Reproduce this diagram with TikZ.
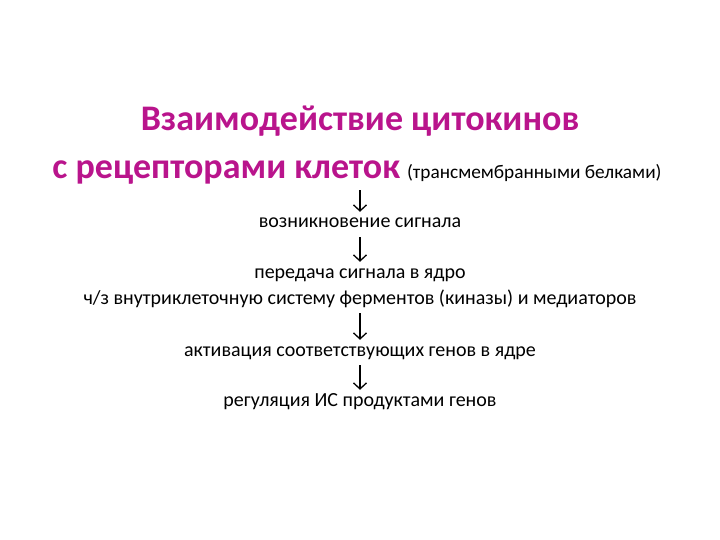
\documentclass[tikz,border=0pt]{standalone}
\usepackage{fontspec}
\setmainfont{Carlito}
\usetikzlibrary{arrows.meta}
\definecolor{titlemag}{RGB}{185,20,140}
\begin{document}
\begin{tikzpicture}[x=1pt,y=-1pt,
    title/.style={anchor=base,inner sep=0pt,text=titlemag,
      font=\fontsize{36}{40}\selectfont\bfseries,text depth=7pt},
    step line/.style={anchor=base,inner sep=0pt,
      font=\fontsize{20}{24}\selectfont,text height=14pt,text depth=5pt},
    arr/.style={-{Straight Barb[length=6pt,width=13pt,line width=1.3pt]},
      line width=1.3pt,shorten <=4pt,shorten >=2pt}]
  \useasboundingbox (0,0) rectangle (720,540);
  % title
  \node[title] (t1) at (360,131) {Взаимодействие цитокинов};
  \node[title] (t2) at (357,179) {с рецепторами клеток\hspace{7pt}%
    {\mdseries\color{black}\fontsize{19.3}{24}\selectfont(трансмембранными белками)}};
  % chain of steps
  \node[step line] (s1) at (360,228) {возникновение сигнала};
  \node[step line] (s2) at (360,278) {передача сигнала в ядро};
  \node[step line] (s3) at (360,304) {ч/з внутриклеточную систему ферментов (киназы) и медиаторов};
  \node[step line] (s4) at (360,356) {активация соответствующих генов в ядре};
  \node[step line] (s5) at (360,406) {регуляция ИС продуктами генов};
  \draw[arr] (s1.north |- t2.south) -- (s1.north);
  \draw[arr] (s1) -- (s2);
  \draw[arr] (s3) -- (s4);
  \draw[arr] (s4) -- (s5);
\end{tikzpicture}
\end{document}
